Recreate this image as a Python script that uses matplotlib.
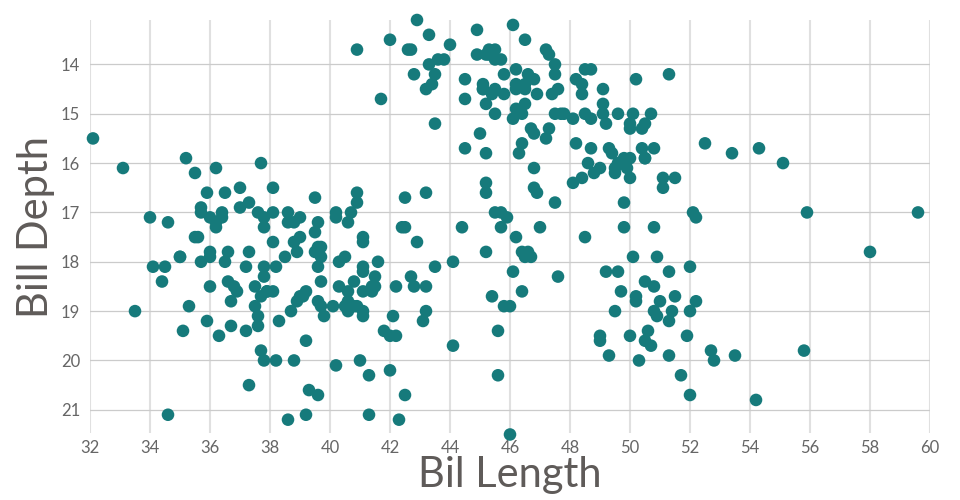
import matplotlib
matplotlib.use("Agg")
import matplotlib.pyplot as plt

# Palmer penguins: bill length / bill depth (mm)
adelie_len = [39.1, 39.5, 40.3, 36.7, 39.3, 38.9, 39.2, 34.1, 42.0, 37.8, 37.8, 41.1, 38.6, 34.6, 36.6, 38.7,
              42.5, 34.4, 46.0, 37.8, 37.7, 35.9, 38.2, 38.8, 35.3, 40.6, 40.5, 37.9, 40.5, 39.5, 37.2, 39.5,
              40.9, 36.4, 39.2, 38.8, 42.2, 37.6, 39.8, 36.5, 40.8, 36.0, 44.1, 37.0, 39.6, 41.1, 37.5, 36.0,
              42.3, 39.6, 40.1, 35.0, 42.0, 34.5, 41.4, 39.0, 40.6, 36.5, 37.6, 35.7, 41.3, 37.6, 41.1, 36.4,
              41.6, 35.5, 41.1, 35.9, 41.8, 33.5, 39.7, 39.6, 45.8, 35.5, 42.8, 40.9, 37.2, 36.2, 42.1, 34.6,
              42.9, 36.7, 35.1, 37.3, 41.3, 36.3, 36.9, 38.3, 38.9, 35.7, 41.1, 34.0, 39.6, 36.2, 40.8, 38.1,
              40.3, 33.1, 43.2, 35.0, 41.0, 37.7, 37.8, 37.9, 39.7, 38.6, 38.2, 38.1, 43.2, 38.1, 45.6, 39.7,
              42.2, 39.6, 42.7, 38.6, 37.3, 35.7, 41.1, 36.2, 37.7, 40.2, 41.4, 35.2, 40.6, 38.8, 41.5, 39.0,
              44.1, 38.5, 43.1, 36.8, 37.5, 38.1, 41.1, 35.6, 40.2, 37.0, 39.7, 40.2, 40.6, 32.1, 40.7, 37.3,
              39.0, 39.2, 36.6, 36.0, 37.8, 36.0, 41.5]
adelie_dep = [18.7, 17.4, 18.0, 19.3, 20.6, 17.8, 19.6, 18.1, 20.2, 17.1, 17.3, 17.6, 21.2, 21.1, 17.8, 19.0,
              20.7, 18.4, 21.5, 18.3, 18.7, 19.2, 18.1, 17.2, 18.9, 18.6, 17.9, 18.6, 18.9, 16.7, 18.1, 17.8,
              18.9, 17.0, 21.1, 20.0, 18.5, 19.3, 19.1, 18.0, 18.4, 18.5, 19.7, 16.9, 18.8, 19.0, 18.9, 17.9,
              21.2, 17.7, 18.9, 17.9, 19.5, 18.1, 18.6, 17.5, 18.8, 16.6, 19.1, 16.9, 21.1, 17.0, 18.2, 17.1,
              18.0, 16.2, 19.1, 16.6, 19.4, 19.0, 18.4, 17.2, 18.9, 17.5, 18.5, 16.8, 19.4, 16.1, 19.1, 17.2,
              17.6, 18.8, 19.4, 17.8, 20.3, 19.5, 18.6, 19.2, 18.8, 18.0, 18.1, 17.1, 18.1, 17.3, 18.9, 18.6,
              18.5, 16.1, 18.5, 17.9, 20.0, 16.0, 20.0, 18.6, 18.9, 17.2, 20.0, 17.0, 19.0, 16.5, 20.3, 17.7,
              19.5, 20.7, 18.3, 17.0, 20.5, 17.0, 18.6, 17.2, 19.8, 17.0, 18.5, 15.9, 19.0, 17.6, 18.3, 17.1,
              18.0, 17.9, 19.2, 18.5, 18.5, 17.6, 17.5, 17.5, 20.1, 16.5, 17.9, 17.1, 17.2, 15.5, 17.0, 16.8,
              18.7, 18.6, 18.4, 17.8, 18.1, 17.1, 18.5]

gentoo_len = [46.1, 50.0, 48.7, 50.0, 47.6, 46.5, 45.4, 46.7, 43.3, 46.8, 40.9, 49.0, 45.5, 48.4, 45.8, 49.3,
              42.0, 49.2, 46.2, 48.7, 50.2, 45.1, 46.5, 46.3, 42.9, 46.1, 44.5, 47.8, 48.2, 50.0, 47.3, 42.8,
              45.1, 59.6, 49.1, 48.4, 42.6, 44.4, 44.0, 48.7, 42.7, 49.6, 45.3, 49.6, 50.5, 43.6, 45.5, 50.5,
              44.9, 45.2, 46.6, 48.5, 45.1, 50.1, 46.5, 45.0, 43.8, 45.5, 43.2, 50.4, 45.3, 46.2, 45.7, 54.3,
              45.8, 49.8, 46.2, 49.5, 43.5, 50.7, 47.7, 46.4, 48.2, 46.5, 46.4, 48.6, 47.5, 51.1, 45.2, 45.2,
              49.1, 52.5, 47.4, 50.0, 44.9, 50.8, 43.4, 51.3, 47.5, 52.1, 47.5, 52.2, 45.5, 49.5, 44.5, 50.8,
              49.4, 46.9, 48.4, 51.1, 48.5, 55.9, 47.2, 49.1, 47.3, 46.8, 41.7, 53.4, 43.3, 48.1, 50.5, 49.8,
              43.5, 51.5, 46.2, 55.1, 44.5, 48.8, 47.2, 46.8, 50.4, 45.2, 49.9]
gentoo_dep = [13.2, 16.3, 14.1, 15.2, 14.5, 13.5, 14.6, 15.3, 13.4, 15.4, 13.7, 16.1, 13.7, 14.6, 14.6, 15.7,
              13.5, 15.2, 14.5, 15.1, 14.3, 14.5, 14.5, 15.8, 13.1, 15.1, 14.3, 15.0, 14.3, 15.3, 15.3, 14.2,
              14.5, 17.0, 14.8, 16.3, 13.7, 17.3, 13.6, 15.7, 13.7, 16.0, 13.7, 15.0, 15.9, 13.9, 13.9, 15.9,
              13.3, 15.8, 14.2, 14.1, 14.4, 15.0, 14.4, 15.4, 13.9, 15.0, 14.5, 15.3, 13.8, 14.9, 13.9, 15.7,
              14.2, 16.8, 14.4, 16.2, 14.2, 15.0, 15.0, 15.6, 15.6, 14.8, 15.0, 16.0, 14.2, 16.3, 13.8, 16.4,
              14.5, 15.6, 14.6, 15.9, 13.8, 17.3, 14.4, 14.2, 14.0, 17.0, 15.0, 17.1, 14.5, 16.1, 14.7, 15.7,
              15.8, 14.6, 14.4, 16.5, 15.0, 17.0, 15.5, 15.0, 13.8, 16.1, 14.7, 15.8, 14.0, 15.1, 15.2, 15.9,
              15.2, 16.3, 14.1, 16.0, 15.7, 16.2, 13.7, 14.3, 15.7, 14.8, 16.1]

chinstrap_len = [46.5, 50.0, 51.3, 45.4, 52.7, 45.2, 46.1, 51.3, 46.0, 51.3, 46.6, 51.7, 47.0, 52.0, 45.9, 50.5,
                 50.3, 58.0, 46.4, 49.2, 42.4, 48.5, 43.2, 50.6, 46.7, 52.0, 50.5, 49.5, 46.4, 52.8, 40.9, 54.2,
                 42.5, 51.0, 49.7, 47.5, 47.6, 52.0, 46.9, 53.5, 49.0, 46.2, 50.9, 45.5, 50.9, 50.8, 50.1, 49.0,
                 51.5, 49.8, 48.1, 51.4, 45.7, 50.7, 42.5, 52.2, 45.2, 49.3, 50.2, 45.6, 51.9, 46.8, 45.7, 55.8,
                 43.5, 49.6, 50.8, 50.2]
chinstrap_dep = [17.9, 19.5, 19.2, 18.7, 19.8, 17.8, 18.2, 18.2, 18.9, 19.9, 17.8, 20.3, 17.3, 18.1, 17.1, 19.6,
                 20.0, 17.8, 18.6, 18.2, 17.3, 17.5, 16.6, 19.4, 17.9, 19.0, 18.4, 19.0, 17.8, 20.0, 16.6, 20.8,
                 16.7, 18.8, 18.6, 16.8, 18.3, 20.7, 16.6, 19.9, 19.5, 17.5, 19.1, 17.0, 17.9, 18.5, 17.9, 19.6,
                 18.7, 17.3, 16.4, 19.0, 17.3, 19.7, 17.3, 18.8, 16.6, 19.9, 18.8, 19.4, 19.5, 16.5, 17.0, 19.8,
                 18.1, 18.2, 19.0, 18.7]

bill_length = adelie_len + gentoo_len + chinstrap_len
bill_depth = adelie_dep + gentoo_dep + chinstrap_dep

x_ticks = list(range(32, 61, 2))
y_ticks = list(range(14, 22))

plt.rcParams['font.family'] = ['Lato', 'DejaVu Sans']

fig = plt.figure(figsize=(9.6, 5), dpi=100)
ax = fig.add_axes([90 / 960, 1 - 433 / 500, 840 / 960, 413 / 500])

ax.set_xlim(32, 60)
ax.set_ylim(21.47, 13.1)

# vertical lines a bit wider and lighter than the horizontal ones
for t in x_ticks:
    ax.axvline(t, color='#e0e0e0', lw=1.5, zorder=0)
for t in y_ticks:
    ax.axhline(t, color='#cbcbcb', lw=0.9, zorder=0)

ax.scatter(bill_length, bill_depth, s=82, color='#167a7b', edgecolors='none', zorder=3, clip_on=False)

for s in ax.spines.values():
    s.set_visible(False)
ax.set_xticks(x_ticks)
ax.set_yticks(y_ticks)
ax.tick_params(length=0, labelsize=12, labelcolor='#666666')
ax.tick_params(axis='x', pad=5)
ax.tick_params(axis='y', pad=7)

ax.set_xlabel('Bil Length', fontsize=30, color='#5f5b59', labelpad=0)
ax.set_ylabel('Bill Depth', fontsize=30, color='#5f5b59', labelpad=4)

fig.savefig('out.png', dpi=100)
